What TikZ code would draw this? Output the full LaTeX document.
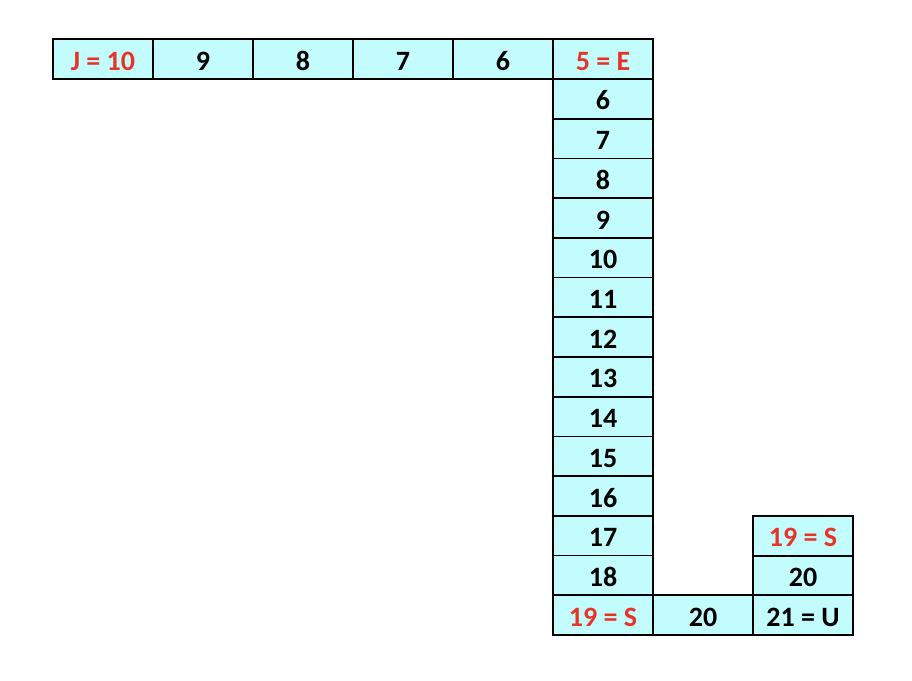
\documentclass[tikz,border=0pt]{standalone}
\usepackage{fontspec}
\setmainfont{Carlito}
\usepackage{tikz}
\definecolor{cellcyan}{RGB}{194,252,252}
\definecolor{hlred}{RGB}{232,52,40}
\tikzset{
	cell/.style={draw, line width=1.8pt, fill=cellcyan, minimum width=100pt, minimum height=39.71pt, inner sep=0pt, text height=22pt, text depth=0pt, font=\fontsize{28}{32}\selectfont\bfseries},
	hl/.style={text=hlred}
}

\begin{document}
\begin{tikzpicture}[x=1pt, y=-1pt]
		\useasboundingbox (0,0) rectangle (912,680);
		% top row, right to left
		\node[cell, hl] (j10) at (103,59) {J = 10};
		\node[cell] (t9) at (203,59) {9};
		\node[cell] (t8) at (303,59) {8};
		\node[cell] (t7) at (403,59) {7};
		\node[cell] (t6) at (503,59) {6};
		\node[cell, hl] (e5) at (603,59) {5 = E};
		
		% long column down
		\foreach \n [count=\i from 0] in {6,...,18}
			\node[cell] (c\n) at (603,{98.9+39.71*\i}) {\n};
		\node[cell, hl] (s19) at (603,615.2) {19 = S};
		
		% bottom row and short column
		\node[cell] (b20) at (703,615.2) {20};
		\node[cell] (u21) at (803,615.2) {21 = U};
		\node[cell] (r20) at (803,575.5) {20};
		\node[cell, hl] (r19) at (803,535.8) {19 = S};
	\end{tikzpicture}
\end{document}
